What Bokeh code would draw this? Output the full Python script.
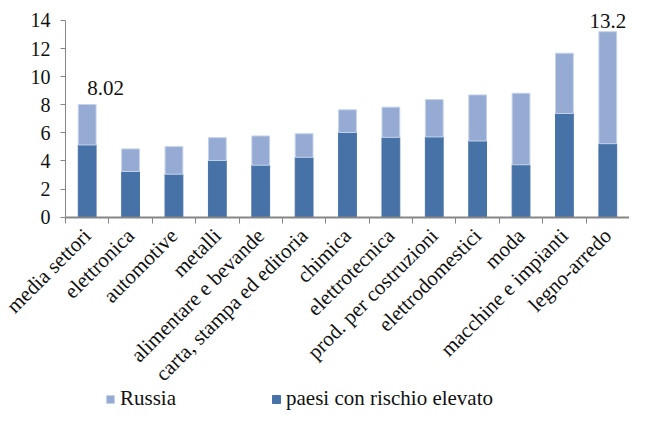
from bokeh.plotting import figure
from bokeh.models import FixedTicker, Range1d, Legend, LegendItem, ColumnDataSource
from bokeh.core.properties import value
from bokeh.embed import file_html
from bokeh.resources import INLINE
import math

categories = ["media settori", "elettronica", "automotive", "metalli",
              "alimentare e bevande", "carta, stampa ed editoria", "chimica",
              "elettrotecnica", "prod. per costruzioni", "elettrodomestici",
              "moda", "macchine e impianti", "legno-arredo"]
paesi = [5.14, 3.25, 3.06, 4.03, 3.70, 4.26, 6.03, 5.68, 5.71, 5.42, 3.73, 7.38, 5.23]
russia = [2.88, 1.61, 1.96, 1.63, 2.08, 1.68, 1.61, 2.15, 2.66, 3.28, 5.09, 4.29, 7.97]
y_ticks = [0, 2, 4, 6, 8, 10, 12, 14]
series_names = ["Russia", "paesi con rischio elevato"]

FONT = "Liberation Serif"
DARK = "#4672a8"
LIGHT = "#95abd3"
AXIS = "#868686"
TXT = "#111111"

n = len(categories)
centers = [i + 0.5 for i in range(n)]
totals = [round(a + b, 2) for a, b in zip(paesi, russia)]

src = ColumnDataSource(dict(x=centers, paesi=paesi, russia=russia))

# the frame fills the whole canvas; both axes are pinned at 0
p = figure(width=629, height=411, output_backend="svg", toolbar_location=None,
           x_range=Range1d(-1.498, n), y_range=Range1d(-13.83, 15.42),
           min_border_left=0, min_border_right=0, min_border_top=0,
           min_border_bottom=0)
p.outline_line_color = None
p.grid.visible = False

rs = p.vbar_stack(["paesi", "russia"], x="x", width=0.41, source=src,
                  color=[DARK, LIGHT])
rs[1].glyph.line_color = "#c5d2e9"
rs[1].glyph.line_width = 1

# value labels for first and last bar
p.text(x=[centers[0]], y=[totals[0]], text=[f"{totals[0]:g}"],
       text_font=value(FONT), text_font_size="21px", text_color=TXT,
       text_align="left", text_baseline="alphabetic", y_offset=-16)
p.text(x=[centers[-1]], y=[totals[-1]], text=[f"{totals[-1]:g}"],
       text_font=value(FONT), text_font_size="21px", text_color=TXT,
       text_align="center", text_baseline="alphabetic", y_offset=-11)

# y axis
ya = p.yaxis[0]
ya.fixed_location = 0
ya.ticker = FixedTicker(ticks=y_ticks)
ya.bounds = (0, 14)
ya.axis_line_color = AXIS
ya.major_tick_line_color = AXIS
ya.major_tick_out = 5
ya.major_tick_in = 0
ya.minor_tick_line_color = None
ya.major_label_standoff = 10
ya.major_label_text_font = FONT
ya.major_label_text_font_size = "20px"
ya.major_label_text_color = TXT

# x axis
xa = p.xaxis[0]
xa.fixed_location = 0
xa.bounds = (0, n)
xa.ticker = FixedTicker(ticks=centers, minor_ticks=list(range(n + 1)))
xa.major_label_overrides = {c: lab for c, lab in zip(centers, categories)}
xa.major_label_orientation = math.pi / 4
xa.axis_line_color = AXIS
xa.axis_line_width = 2
xa.major_tick_line_color = None
xa.major_tick_out = 0
xa.major_tick_in = 0
xa.minor_tick_line_color = AXIS
xa.minor_tick_out = 6
xa.minor_tick_in = 0
xa.major_label_standoff = 9
xa.major_label_text_font = FONT
xa.major_label_text_font_size = "21px"
xa.major_label_text_color = TXT

legend = Legend(items=[LegendItem(label=series_names[0], renderers=[rs[1]]),
                       LegendItem(label=series_names[1], renderers=[rs[0]])],
                orientation="horizontal", location=(105, 0),
                glyph_width=10, glyph_height=10, label_standoff=5, spacing=95,
                padding=0, margin=0, border_line_color=None,
                background_fill_alpha=0,
                label_text_font=FONT, label_text_font_size="21px",
                label_text_color=TXT)
p.add_layout(legend, "center")

open("out.html", "w").write(file_html(p, INLINE))
